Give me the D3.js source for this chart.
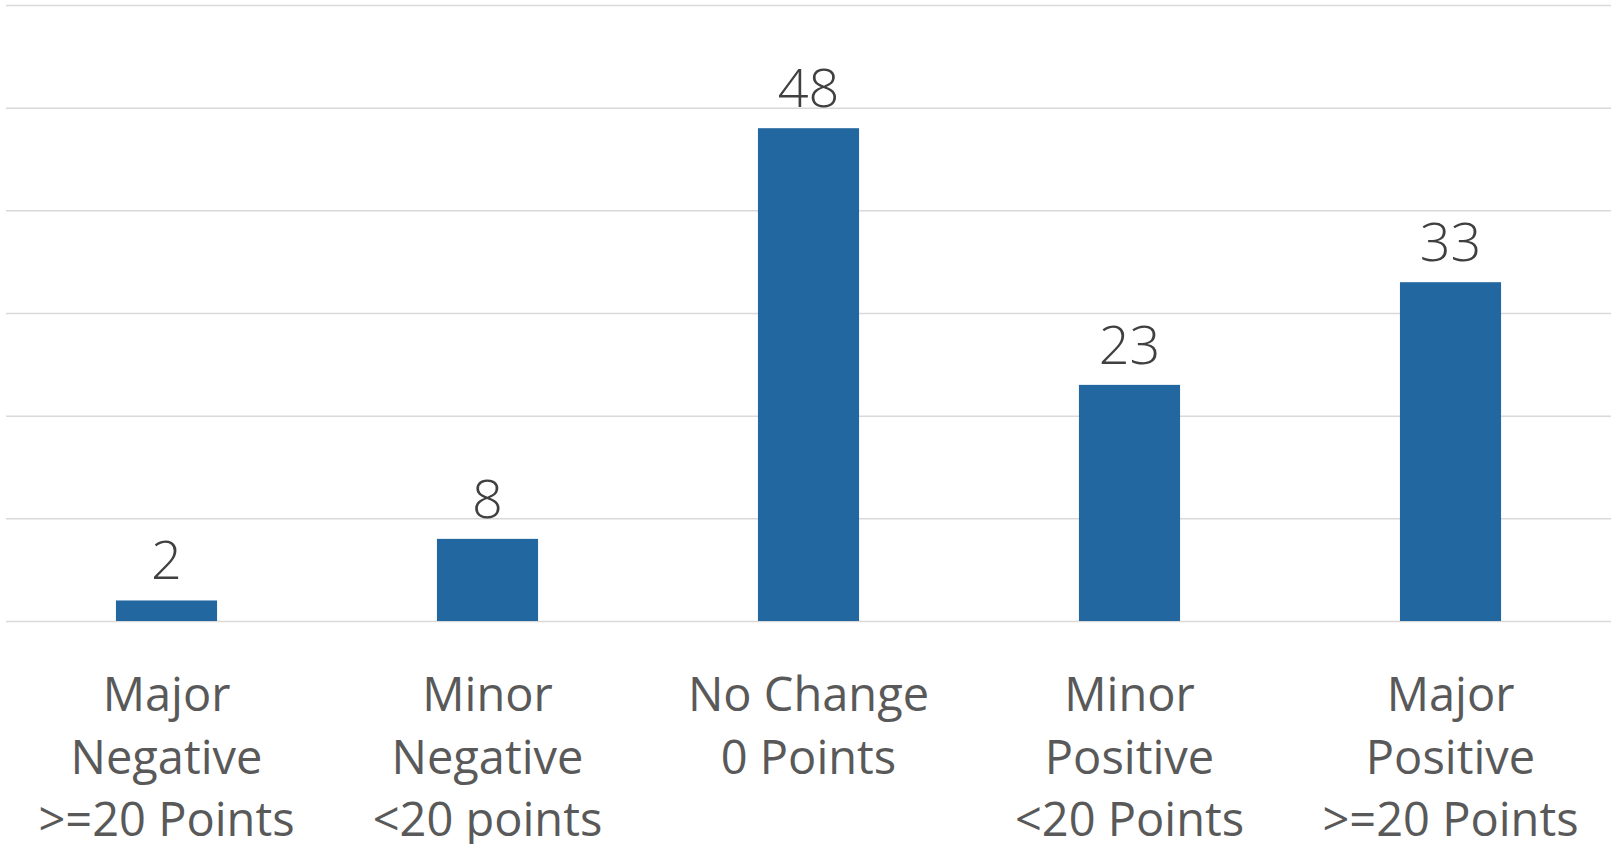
<!DOCTYPE html>
<html>
<head>
<meta charset="utf-8">
<script src="https://cdn.jsdelivr.net/npm/d3@7"></script>
<style>
html,body{margin:0;padding:0;background:#fff;overflow:hidden;}
svg{display:block;}
</style>
</head>
<body>
<svg id="chart" width="1614" height="844"></svg>
<script>
const categories = [
  ["Major", "Negative", ">=20 Points"],
  ["Minor", "Negative", "<20 points"],
  ["No Change", "0 Points"],
  ["Minor", "Positive", "<20 Points"],
  ["Major", "Positive", ">=20 Points"]
];
const values = [2, 8, 48, 23, 33];
const yTicks = [0, 10, 20, 30, 40, 50, 60];

const W = 1614, H = 844;
const margin = {left: 6, right: 3, top: 5, bottom: 223};
const svg = d3.select("#chart");

const x = d3.scaleBand()
  .domain(d3.range(values.length))
  .range([margin.left, W - margin.right])
  .paddingInner(0.685)
  .paddingOuter(0.3425);

const y = d3.scaleLinear()
  .domain([0, 60])
  .range([H - margin.bottom, margin.top]);

// gridlines via axis
const grid = svg.append("g")
  .attr("transform", `translate(${margin.left},0)`)
  .call(d3.axisLeft(y).tickValues(yTicks).tickSize(-(W - margin.left - margin.right)).tickFormat(""));
grid.select(".domain").remove();
grid.selectAll(".tick line").attr("stroke", "#d9d9d9").attr("stroke-width", 1.5);

// bars
svg.append("g").selectAll("rect")
  .data(values)
  .join("rect")
  .attr("x", (d, i) => x(i))
  .attr("width", x.bandwidth())
  .attr("y", d => y(d))
  .attr("height", d => y(0) - y(d))
  .attr("fill", "#2267a0");

// data labels
svg.append("g").selectAll("text")
  .data(values)
  .join("text")
  .attr("x", (d, i) => x(i) + x.bandwidth() / 2)
  .attr("y", d => y(d) - 21)
  .attr("text-anchor", "middle")
  .attr("font-family", "'Open Sans', sans-serif")
  .attr("font-weight", 300)
  .attr("font-size", 54)
  .attr("fill", "#404040")
  .text(d => d);

// category labels
const cat = svg.append("g").selectAll("text")
  .data(categories)
  .join("text")
  .attr("x", (d, i) => x(i) + x.bandwidth() / 2)
  .attr("y", 711)
  .attr("text-anchor", "middle")
  .attr("font-family", "'Open Sans', sans-serif")
  .attr("font-size", 47)
  .attr("fill", "#595959");
cat.selectAll("tspan")
  .data((d, i) => d.map(t => ({t, i})))
  .join("tspan")
  .attr("x", d => x(d.i) + x.bandwidth() / 2)
  .attr("dy", (d, j) => j === 0 ? 0 : 62.5)
  .text(d => d.t);
</script>
</body>
</html>
